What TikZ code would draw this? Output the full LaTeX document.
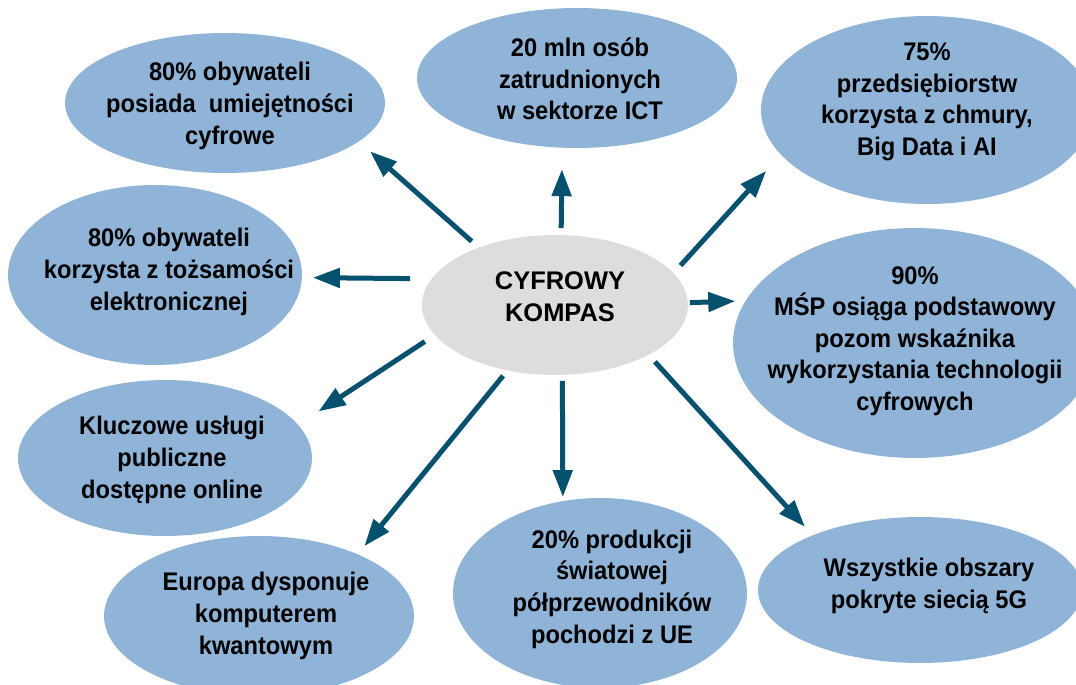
\documentclass[tikz,border=0pt]{standalone}
\usepackage{fontspec}
\setmainfont{Liberation Sans}
\newfontfamily\goalfont[FakeStretch=0.93]{Liberation Sans}
\usepackage{tikz}
\usetikzlibrary{arrows.meta,shapes.geometric}
\usepackage{xcolor}
\definecolor{goalblue}{RGB}{143,180,216}
\definecolor{hubgray}{RGB}{220,221,223}
\definecolor{pointer}{RGB}{6,81,110}

\tikzset{
  goal/.style={ellipse, fill=goalblue, inner sep=0pt, outer sep=0pt},
  caption/.style={font=\goalfont\bfseries\fontsize{14.5}{18}\selectfont, align=center, inner sep=0pt},
  link/.style={draw=pointer, line width=0.1cm, -{Triangle[length=0.54cm,width=0.38cm]}}
}

\begin{document}
\begin{tikzpicture}[x=0.02cm, y=-0.02cm]
\useasboundingbox (0,0) rectangle (1076,684);
\clip (0,0) rectangle (1076,684);

\node[goal, minimum width=6.4cm, minimum height=2.8cm] (skills) at (225,103) {};
\node[goal, minimum width=6.4cm, minimum height=2.8cm] (ict) at (577,78) {};
\node[goal, minimum width=6.64cm, minimum height=3.76cm] (cloud) at (927,110) {};
\node[goal, minimum width=5.88cm, minimum height=3.6cm] (eid) at (155,275) {};
\node[goal, minimum width=7.28cm, minimum height=4.6cm] (sme) at (915,343) {};
\node[goal, minimum width=5.88cm, minimum height=3.12cm] (services) at (165,458) {};
\node[goal, minimum width=6.2cm, minimum height=3.2cm] (quantum) at (259,616) {};
\node[goal, minimum width=5.88cm, minimum height=3.8cm] (chips) at (600,593) {};
\node[goal, minimum width=6.48cm, minimum height=2.92cm] (fiveg) at (920,590) {};
\node[goal, fill=hubgray, minimum width=5.32cm, minimum height=2.8cm] (kompas) at (555,305) {};

\node[caption] (skillstxt) at (230,106) {80\% obywateli\\posiada~ umiejętności\\cyfrowe};
\node[caption] (icttxt) at (580,79) {20 mln osób\\zatrudnionych\\w sektorze ICT};
\node[caption] (cloudtxt) at (927,102) {75\%\\przedsiębiorstw\\korzysta z chmury,\\Big Data i AI};
\node[caption] (eidtxt) at (169,272) {80\% obywateli\\korzysta z tożsamości\\elektronicznej};
\node[caption] (smetxt) at (915,341) {90\%\\MŚP osiąga podstawowy\\pozom wskaźnika\\wykorzystania technologii\\cyfrowych};
\node[caption] (servicestxt) at (172,460) {Kluczowe usługi\\publiczne\\dostępne online};
\node[caption] (quantumtxt) at (266,616) {Europa dysponuje\\komputerem\\kwantowym};
\node[caption] (chipstxt) at (612,589) {20\% produkcji\\światowej\\półprzewodników\\pochodzi z UE};
\node[caption] (fivegtxt) at (929,586) {Wszystkie obszary\\pokryte siecią 5G};
\node[font=\bfseries\fontsize{14.5}{18}\selectfont, align=center, inner sep=0pt] (kompastxt) at (560,297) {CYFROWY\\KOMPAS};

\draw[link, shorten <=0.19cm, shorten >=0.30cm] (kompas.143.96) -- (skills.-16.37);
\draw[link, shorten <=0.14cm, shorten >=0.43cm] (kompas.85.1) -- (ict.-102.9);
\draw[link, shorten <=0.21cm, shorten >=0.44cm] (kompas.15.3) -- (cloud.-163.0);
\draw[link, shorten <=0.43cm, shorten >=0.22cm] (kompas.168.11) -- (eid.-1.56);
\draw[link, shorten <=0.04cm, shorten >=0.21cm] (kompas.1.73) -- (sme.166.08);
\draw[link, shorten <=0.24cm, shorten >=0.49cm] (kompas.194.87) -- (services.14.41);
\draw[link, shorten <=0.14cm, shorten >=0.21cm] (kompas.234.06) -- (quantum.32.16);
\draw[link, shorten <=0.12cm, shorten >=0.08cm] (kompas.-84.28) -- (chips.112.49);
\draw[link, shorten <=0.19cm, shorten >=0.23cm] (kompas.-28.04) -- (fiveg.153.35);
\end{tikzpicture}
\end{document}
